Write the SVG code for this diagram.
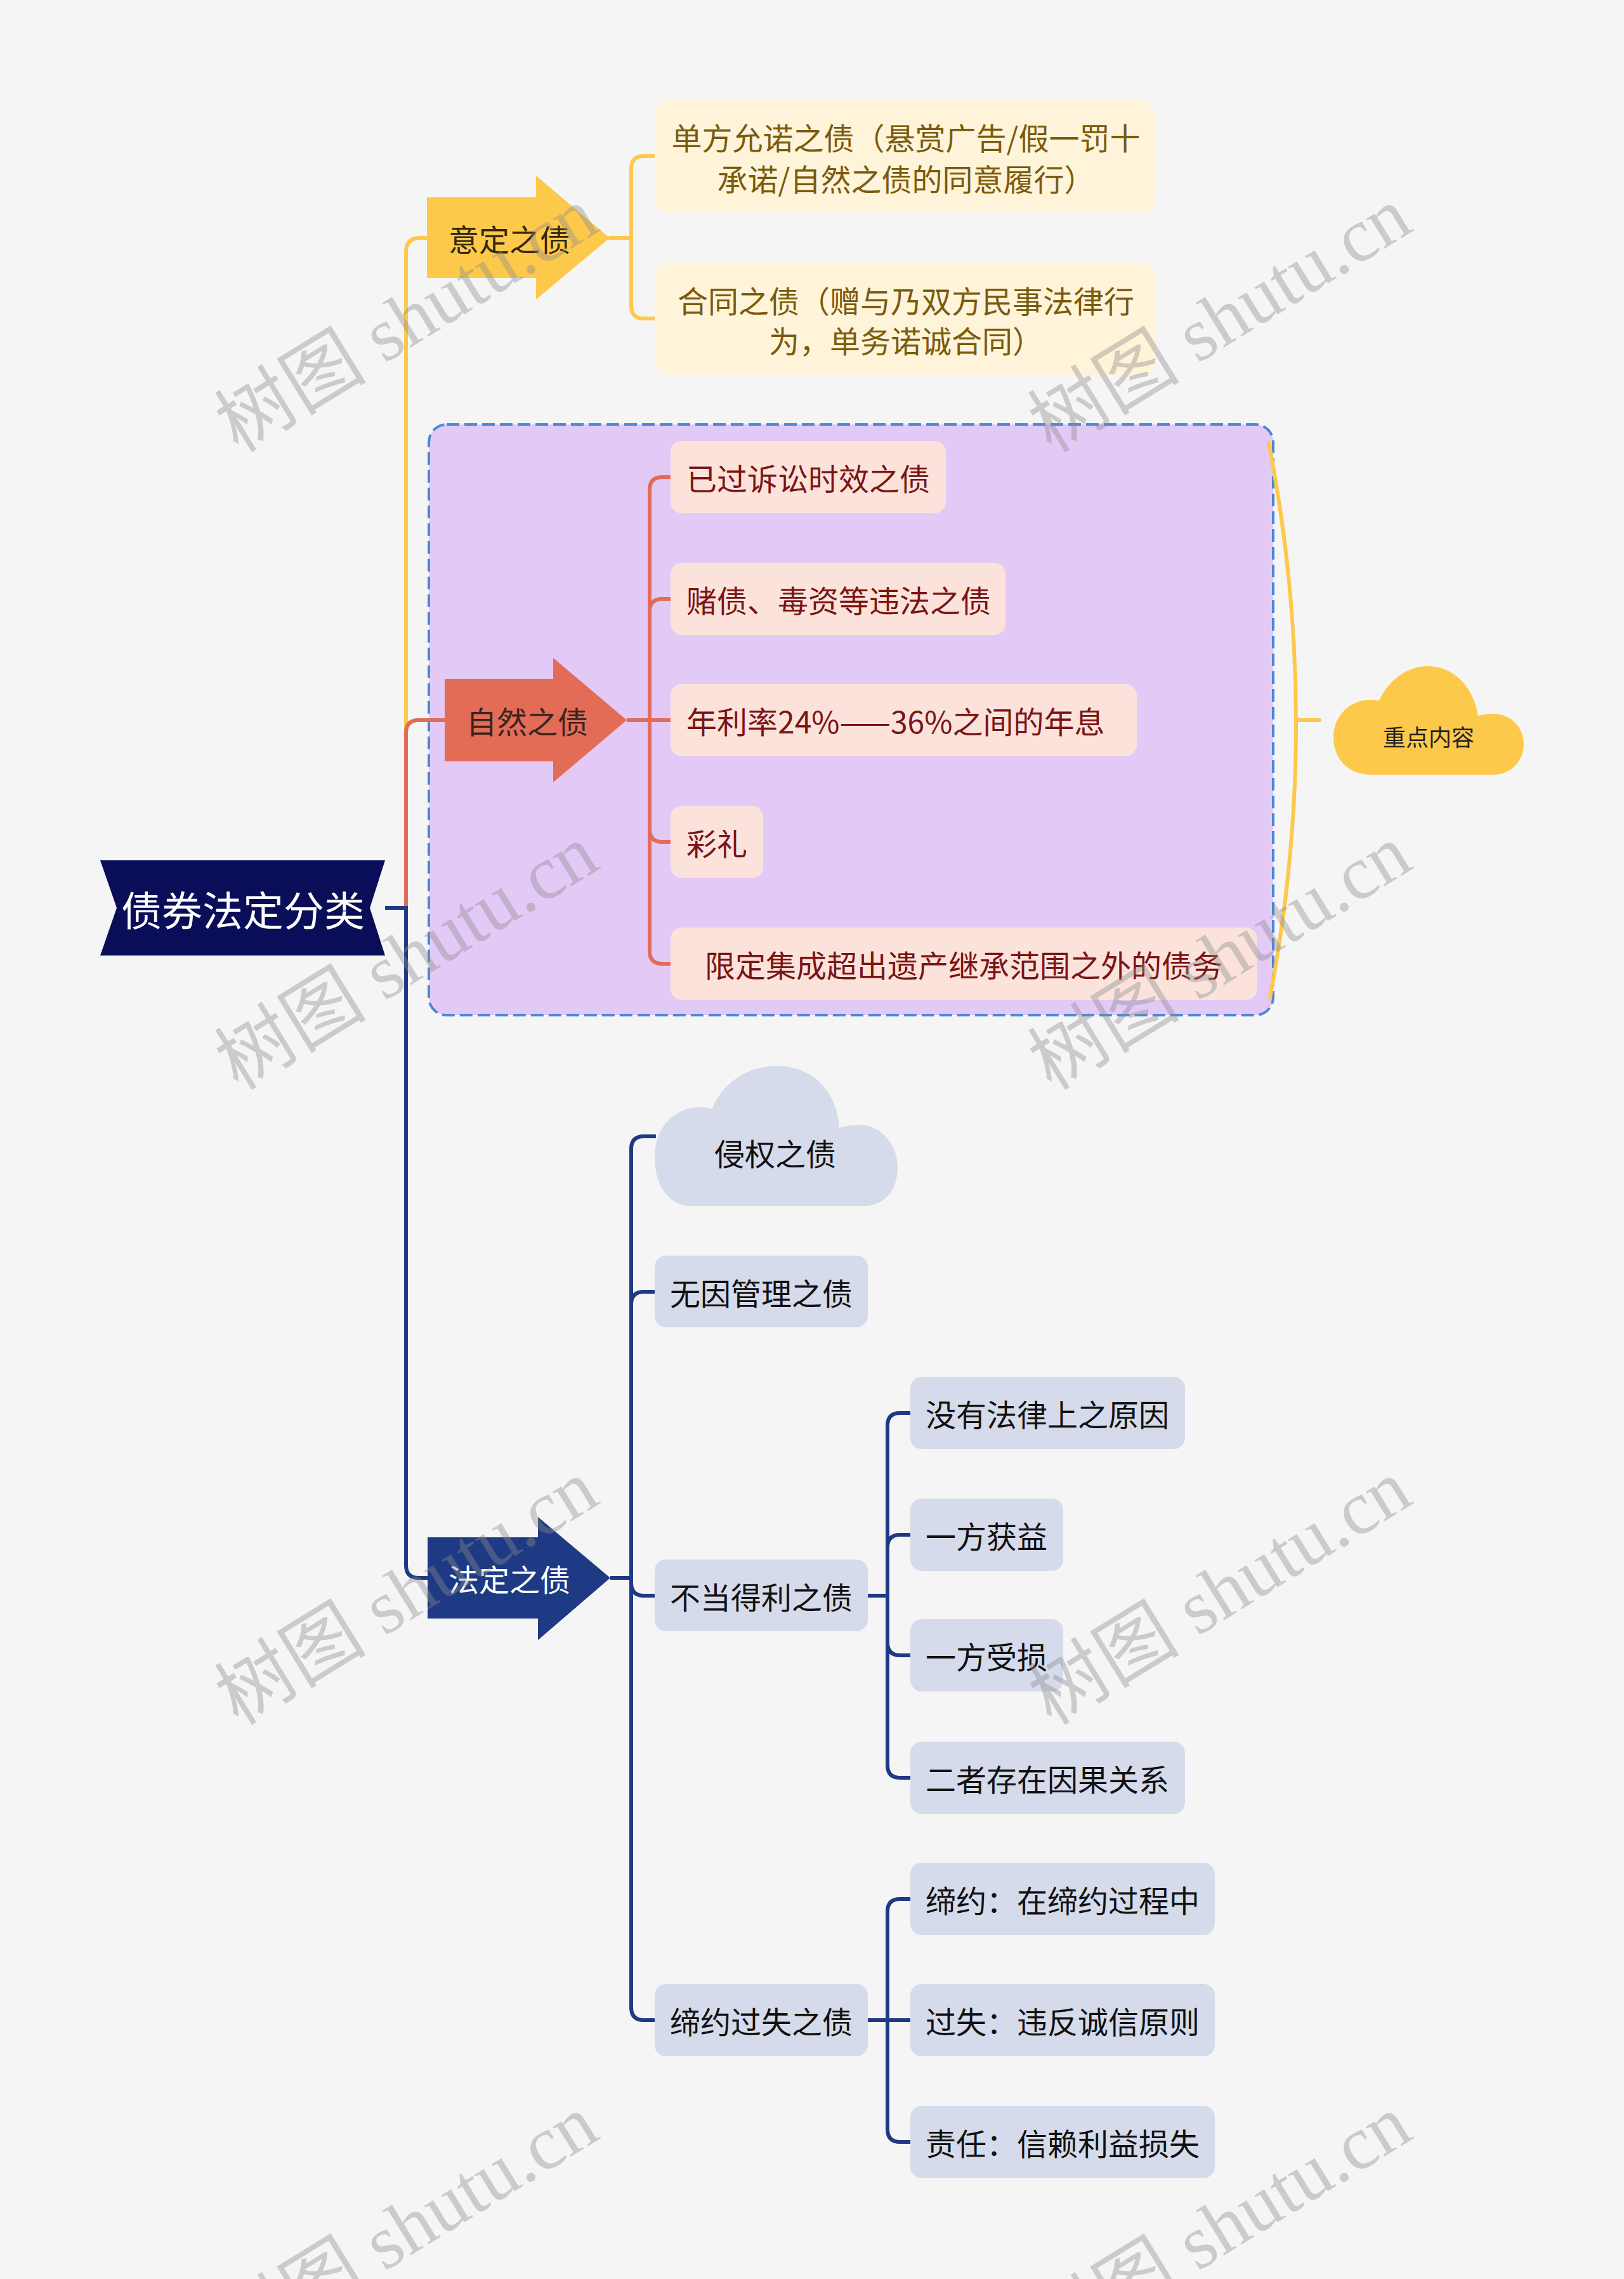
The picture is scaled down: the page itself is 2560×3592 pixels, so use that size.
<svg xmlns="http://www.w3.org/2000/svg" width="2560" height="3592" viewBox="0 0 2560 3592">
<style>
.t{font-family:"Noto Sans CJK SC","Noto Sans",sans-serif;font-size:48px;dominant-baseline:central}
.ly{fill:none;stroke:#fdc94b;stroke-width:6;stroke-linecap:round}
.lo{fill:none;stroke:#e36c57;stroke-width:6}
.ln{fill:none;stroke:#1f3a84;stroke-width:6}
.by{fill:#fff4d9}
.bo{fill:#fbe3dc}
.bn{fill:#d5dbea}
.ty{fill:#7a5b0c}
.to{fill:#7c1414}
.tn{fill:#111111}
.wm{font-family:"Liberation Serif","Noto Sans CJK SC",serif;font-size:120px;fill:#8c8c8c;fill-opacity:0.4}
</style>
<rect x="0" y="0" width="2560" height="3592" fill="#f5f5f5"/>

<g id="group-ziran-frame">
<rect x="676" y="669" width="1331" height="931" rx="28" fill="#e3c9f6" stroke="#4a88d8" stroke-width="4" stroke-dasharray="20 8"/>
</g>

<g id="connectors">
<path class="ly" d="M640 1431 L640 397 Q640 375 662 375 L676 375"/>
<path class="ly" d="M961 375 L995 375"/>
<path class="ly" d="M995 375 L995 266 Q995 246 1015 246 L1032 246"/>
<path class="ly" d="M995 375 L995 482 Q995 502 1015 502 L1032 502"/>
<path class="lo" d="M640 1431 L640 1155 Q640 1135 660 1135 L703 1135"/>
<path class="lo" d="M988 1135 L1057 1135"/>
<path class="lo" d="M1024 1135 L1024 772 Q1024 752 1044 752 L1057 752"/>
<path class="lo" d="M1024 1135 L1024 964 Q1024 944 1044 944 L1057 944"/>
<path class="lo" d="M1024 1135 L1024 1307 Q1024 1327 1044 1327 L1057 1327"/>
<path class="lo" d="M1024 1135 L1024 1499 Q1024 1519 1044 1519 L1057 1519"/>
<path class="ln" d="M607 1431 L640 1431 L640 2467 Q640 2487 660 2487 L676 2487"/>
<path class="ln" d="M962 2487 L995 2487"/>
<path class="ln" d="M995 2487 L995 1811 Q995 1791 1015 1791 L1034 1791"/>
<path class="ln" d="M995 2487 L995 2056 Q995 2036 1015 2036 L1032 2036"/>
<path class="ln" d="M995 2487 L995 2495 Q995 2515 1015 2515 L1032 2515"/>
<path class="ln" d="M995 2487 L995 3164 Q995 3184 1015 3184 L1032 3184"/>
<path class="ln" d="M1368 2515 L1399 2515"/>
<path class="ln" d="M1399 2515 L1399 2247 Q1399 2227 1419 2227 L1435 2227"/>
<path class="ln" d="M1399 2515 L1399 2439 Q1399 2419 1419 2419 L1435 2419"/>
<path class="ln" d="M1399 2515 L1399 2589 Q1399 2609 1419 2609 L1435 2609"/>
<path class="ln" d="M1399 2515 L1399 2782 Q1399 2802 1419 2802 L1435 2802"/>
<path class="ln" d="M1368 3184 L1435 3184"/>
<path class="ln" d="M1399 3184 L1399 3013 Q1399 2993 1419 2993 L1435 2993"/>
<path class="ln" d="M1399 3184 L1399 3356 Q1399 3376 1419 3376 L1435 3376"/>
<path class="ly" d="M2000 698 Q2085 1135 2002 1572" stroke-width="5"/>
<path class="ly" d="M2043 1135 L2080 1135" stroke-width="5"/>
</g>

<g id="root">
<polygon points="158,1356 607,1356 583,1431 607,1506 158,1506 184,1431" fill="#0a0d57"/>
<text class="t" x="383" y="1431" text-anchor="middle" style="font-size:64px" fill="#ffffff">债券法定分类</text>
</g>

<g id="yiding">
<polygon points="673,311 845,311 845,277 961,375 845,472 845,438 673,438" fill="#fdc94b"/>
<text class="t" x="707" y="375" fill="#33290a">意定之债</text>
</g>
<g id="yiding-1">
<rect class="by" x="1032" y="158" width="789" height="177" rx="22"/>
<text class="t ty" x="1428" y="215" text-anchor="middle">单方允诺之债（悬赏广告/假一罚十</text>
<text class="t ty" x="1428" y="280" text-anchor="middle">承诺/自然之债的同意履行）</text>
</g>
<g id="yiding-2">
<rect class="by" x="1032" y="414" width="789" height="177" rx="22"/>
<text class="t ty" x="1428" y="472" text-anchor="middle">合同之债（赠与乃双方民事法律行</text>
<text class="t ty" x="1428" y="535" text-anchor="middle">为，单务诺诚合同）</text>
</g>

<g id="ziran">
<polygon points="701,1070 872,1070 872,1037 988,1135 872,1233 872,1200 701,1200" fill="#e36c57"/>
<text class="t" x="735" y="1135" fill="#3a2420">自然之债</text>
</g>
<g id="ziran-1">
<rect class="bo" x="1057" y="695" width="434" height="114" rx="18"/>
<text class="t to" x="1082" y="752">已过诉讼时效之债</text>
</g>
<g id="ziran-2">
<rect class="bo" x="1057" y="887" width="528" height="114" rx="18"/>
<text class="t to" x="1082" y="944">赌债、毒资等违法之债</text>
</g>
<g id="ziran-3">
<rect class="bo" x="1057" y="1078" width="735" height="114" rx="18"/>
<text class="t to" x="1082" y="1135">年利率24%——36%之间的年息</text>
</g>
<g id="ziran-4">
<rect class="bo" x="1057" y="1270" width="146" height="114" rx="18"/>
<text class="t to" x="1082" y="1327">彩礼</text>
</g>
<g id="ziran-5">
<rect class="bo" x="1057" y="1462" width="925" height="114" rx="18"/>
<text class="t to" x="1519" y="1519" text-anchor="middle">限定集成超出遗产继承范围之外的债务</text>
</g>

<g id="summary">
<path d="M2160 1221 C2125 1221 2102 1195 2102 1162 C2102 1128 2128 1103 2160 1103 C2165 1103 2170 1103 2174 1104 C2190 1070 2220 1050 2250 1050 C2290 1050 2322 1080 2330 1128 C2338 1126 2346 1125 2354 1125 C2381 1125 2402 1146 2402 1173 C2402 1200 2381 1221 2354 1221 Z" fill="#fdc94b"/>
<text class="t" x="2252" y="1160" text-anchor="middle" style="font-size:36px" fill="#222222">重点内容</text>
</g>

<g id="fading">
<polygon points="674,2423 848,2423 848,2391 962,2487 848,2585 848,2551 674,2551" fill="#1f3a84"/>
<text class="t" x="707" y="2487" fill="#ffffff">法定之债</text>
</g>
<g id="fading-1">
<path class="bn" d="M1090 1901 C1055 1901 1032 1870 1032 1823 C1032 1775 1065 1745 1104 1745 C1112 1745 1118 1746 1122 1748 C1140 1705 1180 1680 1225 1680 C1280 1680 1320 1720 1323 1778 C1330 1775 1340 1773 1354 1773 C1390 1773 1415 1805 1415 1840 C1415 1875 1395 1901 1360 1901 Z"/>
<text class="t tn" x="1222" y="1816" text-anchor="middle">侵权之债</text>
</g>
<g id="fading-2">
<rect class="bn" x="1032" y="1979" width="336" height="113" rx="18"/>
<text class="t tn" x="1200" y="2036" text-anchor="middle">无因管理之债</text>
</g>
<g id="fading-3">
<rect class="bn" x="1032" y="2458" width="336" height="113" rx="18"/>
<text class="t tn" x="1200" y="2515" text-anchor="middle">不当得利之债</text>
</g>
<g id="fading-3-1">
<rect class="bn" x="1435" y="2170" width="433" height="114" rx="18"/>
<text class="t tn" x="1651" y="2227" text-anchor="middle">没有法律上之原因</text>
</g>
<g id="fading-3-2">
<rect class="bn" x="1435" y="2362" width="241" height="114" rx="18"/>
<text class="t tn" x="1555" y="2419" text-anchor="middle">一方获益</text>
</g>
<g id="fading-3-3">
<rect class="bn" x="1435" y="2552" width="241" height="114" rx="18"/>
<text class="t tn" x="1555" y="2609" text-anchor="middle">一方受损</text>
</g>
<g id="fading-3-4">
<rect class="bn" x="1435" y="2745" width="433" height="114" rx="18"/>
<text class="t tn" x="1651" y="2802" text-anchor="middle">二者存在因果关系</text>
</g>
<g id="fading-4">
<rect class="bn" x="1032" y="3127" width="336" height="114" rx="18"/>
<text class="t tn" x="1200" y="3184" text-anchor="middle">缔约过失之债</text>
</g>
<g id="fading-4-1">
<rect class="bn" x="1435" y="2936" width="480" height="114" rx="18"/>
<text class="t tn" x="1675" y="2993" text-anchor="middle">缔约：在缔约过程中</text>
</g>
<g id="fading-4-2">
<rect class="bn" x="1435" y="3127" width="480" height="114" rx="18"/>
<text class="t tn" x="1675" y="3184" text-anchor="middle">过失：违反诚信原则</text>
</g>
<g id="fading-4-3">
<rect class="bn" x="1435" y="3319" width="480" height="114" rx="18"/>
<text class="t tn" x="1675" y="3376" text-anchor="middle">责任：信赖利益损失</text>
</g>

<g id="watermarks">
<text class="wm" x="641" y="504" text-anchor="middle" dominant-baseline="central" transform="rotate(-31.6 641 504)">树图 shutu.cn</text>
<text class="wm" x="1923" y="504" text-anchor="middle" dominant-baseline="central" transform="rotate(-31.6 1923 504)">树图 shutu.cn</text>
<text class="wm" x="641" y="1509" text-anchor="middle" dominant-baseline="central" transform="rotate(-31.6 641 1509)">树图 shutu.cn</text>
<text class="wm" x="1923" y="1509" text-anchor="middle" dominant-baseline="central" transform="rotate(-31.6 1923 1509)">树图 shutu.cn</text>
<text class="wm" x="641" y="2510" text-anchor="middle" dominant-baseline="central" transform="rotate(-31.6 641 2510)">树图 shutu.cn</text>
<text class="wm" x="1923" y="2510" text-anchor="middle" dominant-baseline="central" transform="rotate(-31.6 1923 2510)">树图 shutu.cn</text>
<text class="wm" x="641" y="3511" text-anchor="middle" dominant-baseline="central" transform="rotate(-31.6 641 3511)">树图 shutu.cn</text>
<text class="wm" x="1923" y="3511" text-anchor="middle" dominant-baseline="central" transform="rotate(-31.6 1923 3511)">树图 shutu.cn</text>
</g>
</svg>
